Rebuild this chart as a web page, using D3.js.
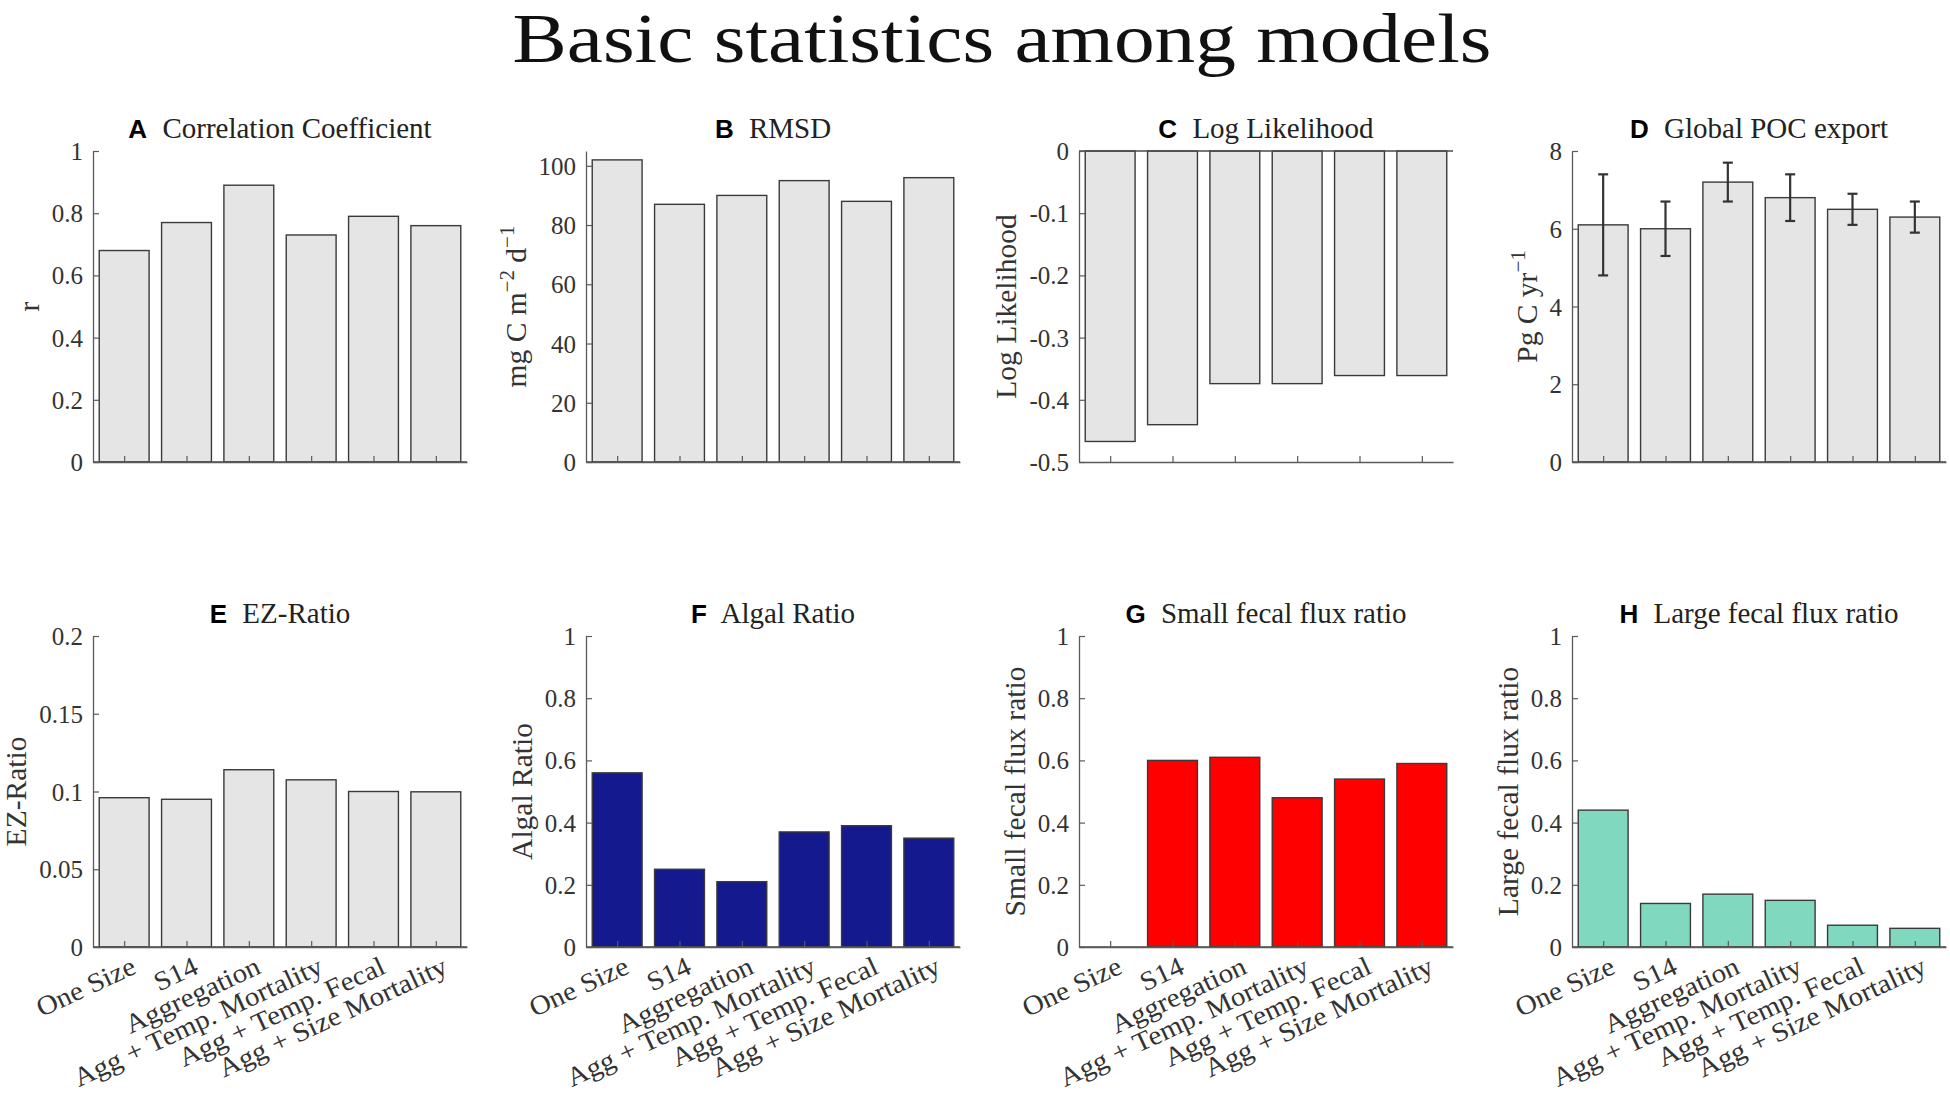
<!DOCTYPE html>
<html>
<head>
<meta charset="utf-8">
<script src="https://cdn.jsdelivr.net/npm/d3@7"></script>
<style>
  html, body { margin: 0; padding: 0; background: #ffffff; }
  svg { display: block; }
</style>
</head>
<body>
<svg id="chart" width="1950" height="1093"></svg>
<script>
// ---------------- data ----------------
const categories = ["One Size", "S14", "Aggregation", "Agg + Temp. Mortality", "Agg + Temp. Fecal", "Agg + Size Mortality"];

const corrValues       = [0.68, 0.77, 0.89, 0.73, 0.79, 0.76];
const rmsdValues       = [102, 87, 90, 95, 88, 96];
const logLikValues     = [-0.467, -0.44, -0.374, -0.374, -0.361, -0.361];
const pocValues        = [6.1, 6.0, 7.2, 6.8, 6.5, 6.3];
const pocErrors        = [1.3, 0.7, 0.5, 0.6, 0.4, 0.4];
const ezValues         = [0.096, 0.095, 0.114, 0.1075, 0.1, 0.0998];
const algalValues      = [0.56, 0.25, 0.21, 0.37, 0.39, 0.35];
const smallFecalValues = [0, 0.60, 0.61, 0.48, 0.54, 0.59];
const largeFecalValues = [0.44, 0.14, 0.17, 0.15, 0.07, 0.06];

const corrTicks   = [0, 0.2, 0.4, 0.6, 0.8, 1];
const rmsdTicks   = [0, 20, 40, 60, 80, 100];
const logLikTicks = [-0.5, -0.4, -0.3, -0.2, -0.1, 0];
const pocTicks    = [0, 2, 4, 6, 8];
const ezTicks     = [0, 0.05, 0.1, 0.15, 0.2];
const ratioTicks  = [0, 0.2, 0.4, 0.6, 0.8, 1];

const mainTitle = "Basic statistics among models";

// ---------------- panel table ----------------
const panels = [
  { letter: "A", title: "Correlation Coefficient", ylabel: [["r"]], values: corrValues, domain: [0, 1], ticks: corrTicks, color: "#e5e5e5", col: 0, row: 0 },
  { letter: "B", title: "RMSD", ylabel: [["mg C m"], ["\u22122", "sup"], [" d"], ["\u22121", "sup"]], values: rmsdValues, domain: [0, 105], ticks: rmsdTicks, color: "#e5e5e5", col: 1, row: 0 },
  { letter: "C", title: "Log Likelihood", ylabel: [["Log Likelihood"]], values: logLikValues, domain: [-0.5, 0], ticks: logLikTicks, color: "#e5e5e5", col: 2, row: 0 },
  { letter: "D", title: "Global POC export", ylabel: [["Pg C yr"], ["\u22121", "sup"]], values: pocValues, errors: pocErrors, domain: [0, 8], ticks: pocTicks, color: "#e5e5e5", col: 3, row: 0 },
  { letter: "E", title: "EZ-Ratio", ylabel: [["EZ-Ratio"]], values: ezValues, domain: [0, 0.2], ticks: ezTicks, color: "#e5e5e5", col: 0, row: 1, xlabels: true },
  { letter: "F", title: "Algal Ratio", ylabel: [["Algal Ratio"]], values: algalValues, domain: [0, 1], ticks: ratioTicks, color: "#141a8e", col: 1, row: 1, xlabels: true },
  { letter: "G", title: "Small fecal flux ratio", ylabel: [["Small fecal flux ratio"]], values: smallFecalValues, domain: [0, 1], ticks: ratioTicks, color: "#fe0000", col: 2, row: 1, xlabels: true },
  { letter: "H", title: "Large fecal flux ratio", ylabel: [["Large fecal flux ratio"]], values: largeFecalValues, domain: [0, 1], ticks: ratioTicks, color: "#80d8bf", col: 3, row: 1, xlabels: true }
];

// ---------------- layout ----------------
const colX = [93, 586, 1079, 1572];
const rowY = [151, 636];
const plotW = 374, plotH = 311;
const serif = "'Liberation Serif', 'Times New Roman', serif";
const sans = "'Liberation Sans', Arial, Helvetica, sans-serif";
const axisColor = "#5a5a5a";
const textColor = "#333333";

const svg = d3.select("#chart");

svg.append("text")
  .attr("x", 1002).attr("y", 62)
  .attr("text-anchor", "middle")
  .attr("font-family", serif)
  .attr("font-size", 69)
  .attr("fill", "#111")
  .attr("textLength", 979)
  .attr("lengthAdjust", "spacingAndGlyphs")
  .text(mainTitle);

const fmt = d => {
  if (d === 0) return "0";
  return String(+d.toFixed(3));
};

panels.forEach(p => {
  const g = svg.append("g").attr("transform", `translate(${colX[p.col]},${rowY[p.row]})`);
  const x = d3.scaleLinear().domain([0.5, categories.length + 0.5]).range([0, plotW]);
  const y = d3.scaleLinear().domain(p.domain).range([plotH, 0]);
  const barW = (x(1.8) - x(1));

  // bars
  g.selectAll("rect.bar").data(p.values).join("rect")
    .attr("class", "bar")
    .attr("x", (d, i) => x(i + 1) - barW / 2)
    .attr("width", barW)
    .attr("y", d => Math.min(y(0), y(d)))
    .attr("height", d => Math.abs(y(d) - y(0)))
    .attr("fill", p.color)
    .attr("stroke", "#3a3a3a")
    .attr("stroke-width", 1.4);

  // error bars
  if (p.errors) {
    const eg = g.append("g").attr("stroke", "#333").attr("stroke-width", 2.2);
    p.values.forEach((v, i) => {
      const cx = x(i + 1), e = p.errors[i];
      eg.append("line").attr("x1", cx).attr("x2", cx).attr("y1", y(v + e)).attr("y2", y(v - e));
      eg.append("line").attr("x1", cx - 5).attr("x2", cx + 5).attr("y1", y(v + e)).attr("y2", y(v + e));
      eg.append("line").attr("x1", cx - 5).attr("x2", cx + 5).attr("y1", y(v - e)).attr("y2", y(v - e));
    });
  }

  // baseline at zero (bar baseline)
  g.append("line")
    .attr("x1", 0).attr("x2", plotW)
    .attr("y1", y(0)).attr("y2", y(0))
    .attr("stroke", "#4a4a4a").attr("stroke-width", 1.4);

  // y axis
  const ya = g.append("g").call(
    d3.axisLeft(y).tickValues(p.ticks).tickFormat(fmt).tickSizeInner(-6).tickSizeOuter(0).tickPadding(10)
  );
  ya.select(".domain").attr("stroke", axisColor).attr("stroke-width", 1.3);
  ya.selectAll(".tick line").attr("stroke", axisColor).attr("stroke-width", 1.2);
  ya.selectAll(".tick text")
    .attr("font-family", serif).attr("font-size", 25).attr("fill", textColor)
    .attr("dy", "0.34em");

  // x axis
  const xa = g.append("g").attr("transform", `translate(0,${plotH})`).call(
    d3.axisBottom(x).tickValues(d3.range(1, categories.length + 1)).tickFormat("").tickSizeInner(-6).tickSizeOuter(0)
  );
  xa.select(".domain").attr("stroke", axisColor).attr("stroke-width", 1.3);
  xa.selectAll(".tick line").attr("stroke", axisColor).attr("stroke-width", 1.2);

  if (p.xlabels) {
    g.append("g").selectAll("text").data(categories).join("text")
      .attr("transform", (d, i) => `translate(${x(i + 1) + 3},${plotH + 3}) rotate(-25) scale(1.08,1)`)
      .attr("text-anchor", "end")
      .attr("dy", "0.92em")
      .attr("font-family", serif).attr("font-size", 27).attr("fill", textColor)
      .text(d => d);
  }

  // panel title
  const t = g.append("text")
    .attr("x", plotW / 2).attr("y", -13)
    .attr("text-anchor", "middle");
  t.append("tspan").attr("font-family", sans).attr("font-weight", "bold").attr("font-size", 26).attr("fill", "#000").text(p.letter);
  t.append("tspan").attr("dx", 8).attr("font-family", serif).attr("font-size", 29).attr("fill", "#222").text(" " + p.title);

  // y label
  const bb = ya.node().getBBox();
  const yl = g.append("text")
    .attr("transform", `translate(${bb.x - 13},${plotH / 2}) rotate(-90)`)
    .attr("text-anchor", "middle")
    .attr("font-family", serif).attr("font-size", 29.5).attr("fill", textColor);
  p.ylabel.forEach(([s, kind]) => {
    const ts = yl.append("tspan").text(s);
    if (kind === "sup") ts.attr("font-size", 21).attr("baseline-shift", "super");
  });
});
</script>
</body>
</html>
